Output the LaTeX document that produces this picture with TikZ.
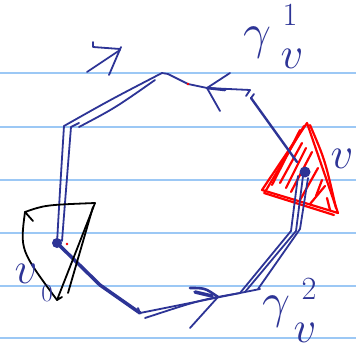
\documentclass[tikz,border=0pt]{standalone}
\usepackage{tikz}
\usetikzlibrary{calc}
\definecolor{ink}{RGB}{45,52,150}
\definecolor{rule}{RGB}{156,200,245}
\definecolor{redink}{RGB}{255,0,0}
\begin{document}
\begin{tikzpicture}[x=1pt,y=-1pt,line cap=round,line join=round,
  ruleline/.style={rule,line width=1.6pt},
  pen/.style={ink,line width=1.8pt},
  thickpen/.style={ink,line width=3.5pt},
  redpen/.style={redink,line width=2.2pt},
  blackpen/.style={black,line width=1.8pt},
  lbl/.style={ink,inner sep=0pt,font=\Huge}]
\useasboundingbox (0,0) rectangle (356,350);
\fill[white] (0,0) rectangle (356,350);
% ruled lines
\foreach \yy/\nm in {73/r1,127/r2,180/r3,233/r4,286/r5,338/r6}{
  \coordinate (\nm a) at (0,\yy); \coordinate (\nm b) at (356,\yy);
  \draw[ruleline] (\nm a) -- (\nm b);}
% polygon corners
\coordinate (A) at (64,126);
\coordinate (B) at (162,73);
\coordinate (C) at (188,84);
\coordinate (D) at (250,90);
\coordinate (D2) at (251,98);
\coordinate (R) at (305,172);
\coordinate (E) at (294,232);
\coordinate (F) at (240,293);
\coordinate (G) at (140,313);
\coordinate (H) at (57,243);
% red triangle
\coordinate (T1) at (307,123);
\coordinate (T2) at (262,190);
\coordinate (T3) at (338,213);
\draw[redpen] (T1) -- (T2) -- (T3) -- cycle;
\draw[redpen] (304,126) .. controls (290,150) .. (265,192);
\draw[redpen] (310,125) .. controls (325,160) .. (336,208);
\draw[redpen] (264,193) -- (334,215);
\draw[redpen] (300,130) -- (272,185);
\draw[redpen] (280,183) -- (302,143);
\draw[redpen] (286,188) -- (306,148);
\draw[redpen] (291,192) -- (312,152);
\draw[redpen] (300,200) -- (318,168);
\draw[redpen] (310,204) -- (325,186);
\draw[redpen] (316,196) -- (322,180);
\draw[redpen] (327,198) -- (330,210);
% left edge H-A (double)
\draw[pen] (H) .. controls (60,190) .. (A);
\draw[pen] ($(H)+(5,-2)$) .. controls (66,190) .. (71,127) -- (79,123);
% top-left edge A-B (double)
\draw[pen] (A) .. controls (110,100) .. (B);
\draw[pen] (79,127) .. controls (115,108) .. (155,80);
% top edge B-C-D
\draw[pen] (B) -- (168,74) -- (C) -- (207,88) -- (D) -- (246,96);
\fill[redink] (C) circle (1.3);
% top-right edge D2-R
\draw[pen] (D2) -- (254,94);
\draw[thickpen,line width=2.4pt] (D2) -- (297,162);
% right edges R-E
\draw[pen] (298,176) -- (291,231);
\draw[pen] (303,176) -- (296,231);
\draw[pen] (308,178) -- (300,229);
% edges E-F
\draw[pen] (291,231) -- (F);
\draw[pen] (296,231) -- (245,292);
\draw[pen] (300,229) -- (258,289);
% bottom edge F-G
\draw[pen] (260,289) -- (G);
\draw[pen] (F) .. controls (200,300) .. (145,318);
% bottom-left edge G-H (thick)
\draw[thickpen] (H) -- (100,285) -- (G);
\draw[pen] (G) -- (138,308);
% blobs
\fill[ink] (H) circle (5);
\fill[redink] (67,244) circle (1.4);
\fill[ink] (R) circle (5.5);
% black triangle
\coordinate (K1) at (25,212);
\coordinate (K2) at (95,203);
\coordinate (K3) at (57,300);
\draw[blackpen] (33,221) -- (K1) .. controls (45,205) .. (K2);
\draw[blackpen] (K1) .. controls (20,250) .. (K3);
\draw[blackpen] (K2) -- (K3) -- (62,297);
\draw[blackpen] (93,207) -- (68,293);
% arrow heads
\draw[pen] (87,72) -- (120,50);
\draw[pen] (93,42) -- (93,47) -- (120,49);
\draw[pen] (109,75) -- (121,47);
\draw[pen] (230,73) -- (207,88) -- (220,111);
\draw[pen,line width=2.6pt] (207,88) -- (225,90);
\draw[pen] (190,328) -- (218,297);
\draw[pen,line width=2.6pt] (190,288) .. controls (205,288) .. (218,297);
\draw[thickpen] (195,292) -- (212,296);
% labels
\node[lbl,scale=2] (g1) at (257,43) {$\gamma$};
\node[lbl,scale=1.3] (g1s) at (290,15) {1};
\node[lbl,scale=1.8] (g1v) at (292,59) {$v$};
\node[lbl,scale=2] (g2) at (276,312) {$\gamma$};
\node[lbl,scale=1.3] (g2s) at (309,289) {2};
\node[lbl,scale=1.8] (g2v) at (305,333) {$v$};
\node[lbl,scale=1.8] (vr) at (342,159) {$v$};
\node[lbl,scale=1.8] (v0) at (26,274) {$v$};
\node[lbl,scale=1.0] (v0s) at (47,293) {0};
\end{tikzpicture}
\end{document}
